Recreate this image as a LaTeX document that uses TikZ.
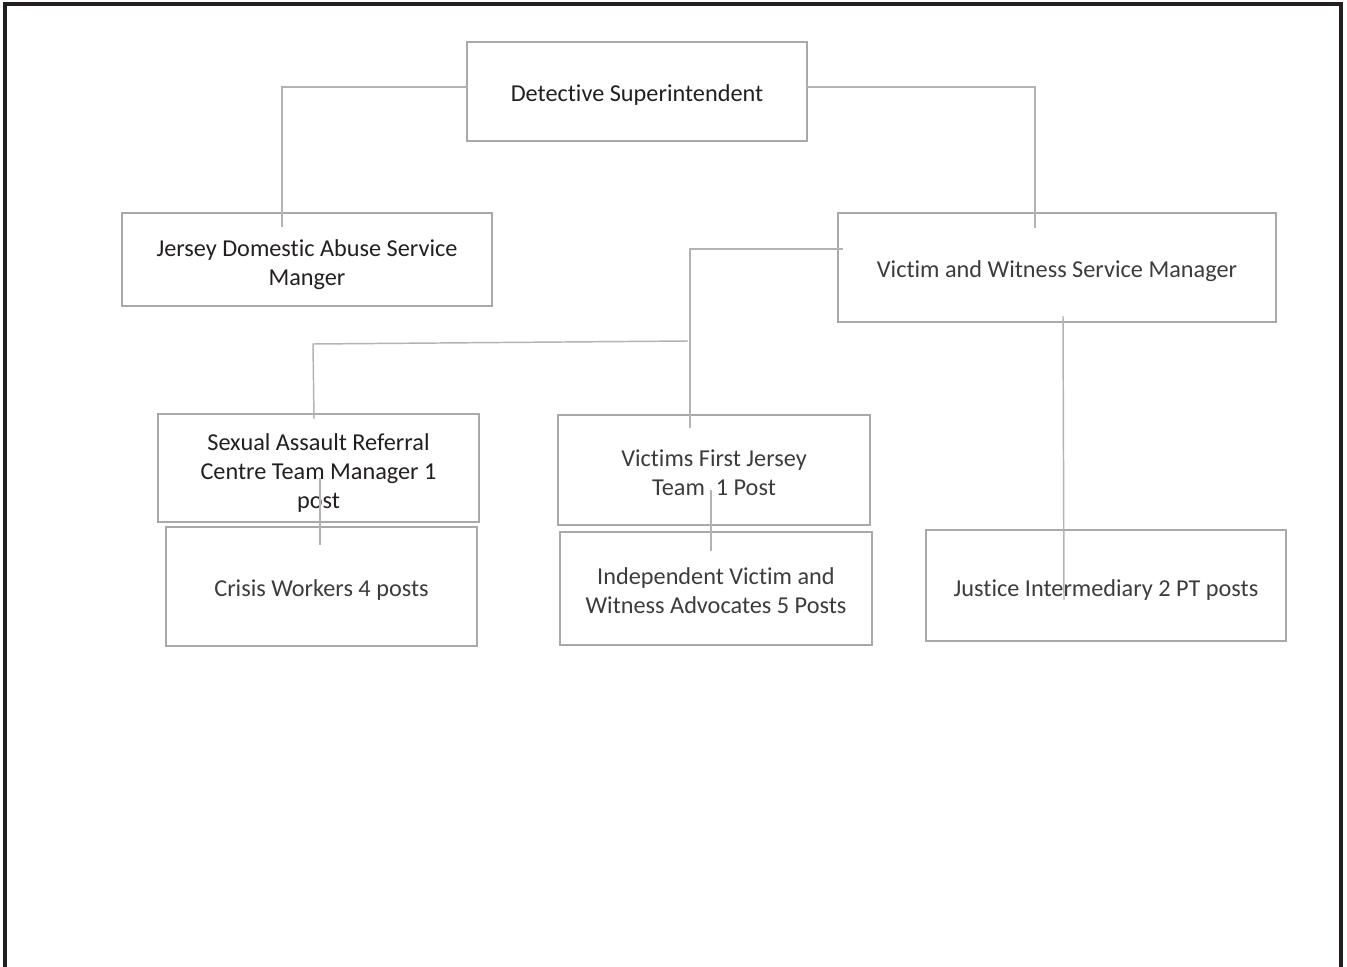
\documentclass[tikz,border=0pt]{standalone}
\usepackage{fontspec}
\setmainfont{Carlito}[Ligatures=NoCommon]
\definecolor{frame}{HTML}{231F20}
\definecolor{boxline}{HTML}{A7A9AC}
\definecolor{conn}{HTML}{B3B3B6}
\definecolor{txt}{HTML}{231F20}
\definecolor{txtlight}{HTML}{3C3C3E}
\tikzset{
  orgbox/.style={draw=boxline, line width=2pt, rectangle, inner sep=0pt},
  boxtext/.style={inner sep=0pt, align=center, font=\fontsize{18.2}{22}\selectfont, text=txt},
  lighttext/.style={boxtext, text=txtlight},
  connector/.style={draw=conn, line width=1.1pt},
}
\begin{document}
\begin{tikzpicture}[x=0.75pt, y=-0.75pt]
\useasboundingbox (0,0) rectangle (1347,967);
\draw[frame, line width=2.3pt] (5,967) -- (5,4) -- (1341,4) -- (1341,967);

% boxes
\node[orgbox, minimum width=340*0.75pt, minimum height=99*0.75pt] (ds) at (637,91.5) {};
\node[orgbox, minimum width=370*0.75pt, minimum height=93*0.75pt] (jda) at (307,259.5) {};
\node[orgbox, minimum width=438*0.75pt, minimum height=109*0.75pt] (vw) at (1057,267.5) {};
\node[orgbox, minimum width=321*0.75pt, minimum height=108*0.75pt] (sarc) at (318.5,468) {};
\node[orgbox, minimum width=312*0.75pt, minimum height=110*0.75pt] (vfj) at (714,470) {};
\node[orgbox, minimum width=311*0.75pt, minimum height=119*0.75pt] (cw) at (321.5,586.5) {};
\node[orgbox, minimum width=312*0.75pt, minimum height=113*0.75pt] (iv) at (716,588.5) {};
\node[orgbox, minimum width=360*0.75pt, minimum height=111*0.75pt] (ji) at (1106,585.5) {};

% texts
\node[boxtext] (dsT) at (637,95.5) {Detective Superintendent};
\node[boxtext] (jdaT) at (307,264.5) {Jersey Domestic Abuse Service\\Manger};
\node[lighttext] (vwT) at (1057,271.5) {Victim and Witness Service Manager};
\node[boxtext] (sarcT) at (318.5,473) {Sexual Assault Referral\\Centre Team Manager 1\\post};
\node[lighttext] (vfjT) at (714,472.5) {Victims First Jersey\\Team\ \ 1 Post};
\node[lighttext] (cwT) at (321.5,590.5) {Crisis Workers 4 posts};
\node[lighttext] (ivT) at (716,590.5) {Independent Victim and\\Witness Advocates 5 Posts};
\node[lighttext] (jiT) at (1106,590.5) {Justice Intermediary 2 PT posts};

% connector points
\coordinate (dsL) at (467,87);
\coordinate (jdaEnd) at (282,227);
\coordinate (dsR) at (807,87);
\coordinate (vwEnd) at (1035,228);
\coordinate (vwL) at (843,249);
\coordinate (vfjEnd) at (690,428);
\coordinate (hR) at (688,341);
\coordinate (hL) at (313,344);
\coordinate (sarcEnd) at (314,419);
\coordinate (vwB) at (1063,316);
\coordinate (jiEnd) at (1064,600);
\coordinate (sarcB) at (320,478);
\coordinate (cwEnd) at (320,545);
\coordinate (vfjB) at (711,490);
\coordinate (ivEnd) at (711,551);

\draw[connector] (dsL) -| (jdaEnd);
\draw[connector] (dsR) -| (vwEnd);
\draw[connector] (vwL) -| (vfjEnd);
\draw[connector] (hR) -- (hL) -- (sarcEnd);
\draw[connector] (vwB) -- (jiEnd);
\draw[connector] (sarcB) -- (cwEnd);
\draw[connector] (vfjB) -- (ivEnd);
\end{tikzpicture}
\end{document}
